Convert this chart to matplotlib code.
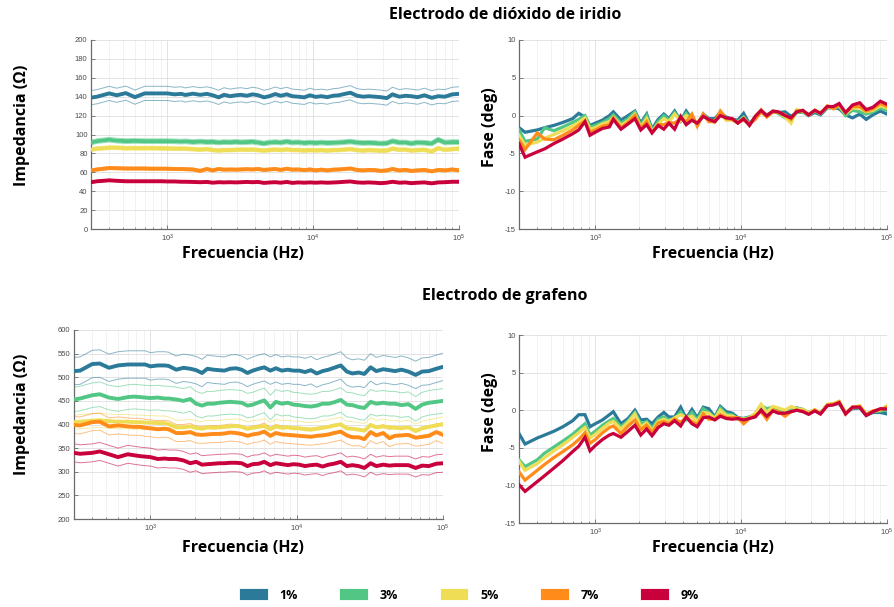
import matplotlib
matplotlib.use("Agg")
import matplotlib.pyplot as plt
from matplotlib.patches import Patch
from matplotlib.ticker import LogLocator, NullFormatter

plt.rcParams['font.family'] = ['Liberation Sans', 'DejaVu Sans']
plt.rcParams['mathtext.default'] = 'regular'
plt.rcParams['axes.unicode_minus'] = False

# ---------------------------------------------------------------- data
freq = [300, 330, 400, 450, 520, 600, 700, 770, 850, 920,
        1000, 1120, 1250, 1330, 1500, 1680, 1870, 2050, 2250, 2450,
        2700, 2950, 3200, 3500, 3850, 4200, 4600, 5000, 5500, 6000,
        6600, 7200, 7900, 8700, 9500, 10400, 11400, 12500, 13700, 15000,
        16500, 18000, 20000, 22000, 24000, 26500, 29000, 32000, 35000, 39000,
        43000, 47000, 52000, 58000, 65000, 72000, 80000, 90000, 100000]

concentrations = ["1%", "3%", "5%", "7%", "9%"]
colors = ["#2B7A99", "#52C785", "#EEDD55", "#FF8C1A", "#C8003C"]

# Iridium dioxide electrode: mean impedance (ohm)
ir_z_1 = [139.0, 140.0, 143.5, 141.5, 143.8, 139.5, 143.5, 143.5, 143.5, 143.5,
          143.5, 142.5, 143.0, 141.8, 143.2, 142.0, 143.0, 141.5, 139.3, 142.0,
          140.5, 141.5, 142.0, 141.0, 142.5, 141.5, 139.3, 140.5, 142.8, 141.0,
          142.5, 140.5, 140.0, 139.3, 141.5, 139.8, 140.5, 139.5, 141.0, 141.5,
          143.0, 144.2, 141.0, 140.0, 140.5, 140.0, 139.5, 138.5, 142.5, 140.0,
          141.0, 140.5, 139.5, 141.5, 138.8, 140.5, 140.0, 142.5, 143.0]
ir_z_3 = [91.5, 93.0, 94.5, 93.5, 93.0, 93.2, 93.0, 93.0, 93.0, 93.0,
          93.0, 92.8, 92.5, 92.8, 92.0, 92.5, 92.0, 92.2, 91.5, 92.0,
          91.8, 92.2, 91.8, 92.0, 92.3, 91.5, 90.5, 91.5, 92.0, 91.5,
          92.5, 91.5, 91.8, 91.0, 91.5, 91.0, 91.5, 91.0, 91.2, 91.5,
          92.0, 92.5, 91.5, 91.0, 91.2, 91.0, 90.5, 90.8, 93.0, 91.5,
          91.5, 90.5, 91.5, 91.2, 90.5, 94.5, 91.5, 92.0, 92.0]
ir_z_5 = [84.0, 85.0, 86.0, 86.0, 85.5, 85.5, 85.5, 85.5, 85.5, 85.3,
          85.3, 85.0, 85.0, 85.0, 84.5, 84.0, 84.5, 83.5, 83.0, 83.5,
          83.5, 83.8, 84.0, 83.8, 84.0, 83.5, 83.0, 83.5, 84.0, 83.5,
          84.2, 83.5, 83.5, 83.0, 83.5, 83.2, 83.5, 83.0, 83.5, 83.5,
          84.0, 84.5, 83.5, 83.0, 83.5, 83.2, 82.8, 83.0, 85.0, 83.8,
          84.0, 83.0, 83.5, 83.8, 82.0, 85.5, 83.8, 84.5, 85.0]
ir_z_7 = [62.0, 63.0, 64.5, 64.3, 64.0, 64.0, 64.0, 63.8, 63.8, 63.8,
          63.8, 63.5, 63.5, 63.3, 63.0, 61.5, 63.5, 62.0, 63.5, 62.8,
          63.0, 62.8, 63.0, 63.3, 63.0, 63.5, 62.5, 63.0, 63.5, 62.5,
          63.8, 62.8, 63.0, 62.3, 63.0, 62.0, 62.8, 62.0, 62.8, 63.0,
          63.5, 64.0, 62.5, 62.0, 62.5, 62.3, 61.5, 62.0, 63.5, 62.0,
          62.5, 61.5, 62.0, 62.5, 61.0, 62.5, 62.0, 63.0, 62.0]
ir_z_9 = [49.5, 50.5, 51.5, 51.0, 50.5, 50.5, 50.5, 50.5, 50.5, 50.5,
          50.3, 50.3, 50.0, 50.0, 49.8, 49.5, 49.8, 49.0, 49.5, 49.3,
          49.5, 49.3, 49.5, 49.8, 49.5, 49.8, 48.8, 49.2, 49.5, 49.0,
          49.8, 48.8, 49.3, 49.0, 49.3, 49.0, 49.3, 49.0, 49.2, 49.5,
          50.0, 50.3, 49.3, 49.0, 49.3, 49.0, 48.5, 49.0, 50.0, 49.0,
          49.3, 48.5, 49.0, 49.3, 48.3, 49.3, 49.5, 50.0, 50.0]
# standard deviation of the impedance for each concentration
ir_z_spread = [7.5, 2.5, 2.0, 1.5, 1.0]

# Iridium dioxide electrode: phase (deg)
ir_ph_1 = [-1.6, -2.2, -1.9, -1.6, -1.3, -0.9, -0.4, 0.3, -0.2, -1.3,
           -1.0, -0.6, 0.0, 0.5, -0.6, 0.0, 0.6, -1.0, 0.2, -1.8,
           -0.5, 0.2, -0.4, 0.6, -0.7, 0.6, -0.5, -1.1, 0.2, -0.4,
           -0.4, 0.4, -0.2, -0.5, -0.6, 0.3, -1.1, -0.2, 0.5, 0.1,
           0.5, 0.4, 0.5, -0.1, 0.4, 0.5, 0.0, 0.4, 0.1, 1.0,
           1.1, 0.9, 0.1, -0.3, 0.2, -0.5, 0.1, 0.6, 0.2]
ir_ph_3 = [-1.9, -3.4, -3.1, -1.6, -2.0, -1.5, -0.9, -0.5, 0.0, -1.5,
           -1.3, -0.9, -0.4, 0.1, -1.0, -0.4, 0.5, -1.3, 0.0, -2.0,
           -0.8, 0.0, -0.6, 0.4, -0.5, 0.3, -0.6, -1.0, 0.0, -0.5,
           -0.7, 0.3, -0.3, -0.5, -0.8, -0.2, -1.2, -0.2, 0.6, 0.0,
           0.6, 0.3, -0.3, -0.5, 0.4, 0.5, 0.1, 0.6, 0.2, 1.1,
           1.0, 1.2, 0.0, 0.7, 0.5, 0.2, 0.5, 1.0, 0.7]
ir_ph_5 = [-2.6, -3.9, -3.5, -3.0, -2.5, -2.0, -1.4, -0.9, -0.3, -1.8,
           -1.6, -1.1, -0.8, -0.2, -1.3, -0.7, 0.2, -1.5, -0.4, -2.1,
           -1.1, -0.4, -0.8, 0.2, -0.7, 0.0, -0.6, -1.0, 0.1, -0.6,
           -0.9, 0.3, -0.6, -0.6, -1.0, -0.3, -1.3, -0.1, 0.8, -0.1,
           0.6, 0.5, -0.2, -1.0, 0.8, 0.6, 0.1, 0.7, 0.3, 1.1,
           1.1, 1.3, 0.3, 1.0, 1.0, 0.5, 0.7, 1.3, 1.0]
ir_ph_7 = [-3.2, -4.5, -2.3, -3.1, -3.2, -2.6, -1.9, -1.3, -0.7, -2.2,
           -1.9, -1.4, -1.2, -0.3, -1.6, -0.9, 0.0, -1.7, -0.8, -2.2,
           -1.2, -1.2, -0.9, -1.0, -0.4, -0.8, 0.2, -1.4, 0.2, -0.8,
           -0.8, 0.6, -0.4, -0.5, -0.9, -0.6, -1.1, -0.5, 0.5, -0.2,
           0.5, 0.4, 0.1, -0.5, 0.6, 0.6, 0.1, 0.7, 0.3, 1.3,
           0.9, 1.4, 0.4, 1.2, 1.2, 0.6, 0.9, 1.6, 1.2]
ir_ph_9 = [-3.7, -5.5, -4.8, -4.4, -3.7, -3.1, -2.4, -1.9, -0.8, -2.6,
           -2.2, -1.7, -1.5, -0.5, -1.8, -1.1, -0.4, -1.9, -1.2, -2.3,
           -1.3, -1.8, -1.0, -1.8, -0.1, -1.2, -0.6, -1.0, -0.1, -0.5,
           -0.8, 0.0, -0.3, -0.4, -1.0, -0.4, -1.3, -0.1, 0.7, 0.0,
           0.6, 0.5, 0.0, -0.3, 0.5, 0.7, 0.1, 0.7, 0.3, 1.2,
           1.2, 1.6, 0.4, 1.4, 1.7, 0.8, 1.1, 1.9, 1.5]

# Graphene electrode: mean impedance (ohm)
gr_z_1 = [513, 514, 528, 529, 520, 525, 527, 527, 527, 527,
          523, 525, 525, 524, 516, 520, 518, 515, 509, 518,
          516, 515, 514, 518, 519, 516, 509, 514, 518, 521,
          514, 519, 514, 516, 514, 514, 511, 515, 508, 513,
          516, 520, 525, 512, 508, 510, 507, 521, 513, 517,
          515, 513, 516, 512, 505, 512, 513, 518, 522]
gr_z_3 = [453, 455, 462, 464, 457, 454, 458, 459, 458, 457,
          456, 457, 455, 455, 453, 450, 454, 444, 440, 444,
          444, 446, 447, 448, 447, 446, 440, 442, 447, 451,
          436, 448, 444, 446, 442, 441, 439, 438, 440, 444,
          444, 447, 452, 442, 441, 437, 435, 448, 444, 446,
          444, 444, 441, 443, 433, 442, 446, 448, 450]
gr_z_5 = [405, 406, 408, 409, 407, 406, 406, 405, 405, 404,
          404, 403, 403, 401, 394, 394, 396, 393, 391, 394,
          393, 394, 395, 396, 397, 395, 391, 393, 395, 397,
          390, 396, 393, 394, 392, 392, 390, 389, 391, 393,
          395, 398, 400, 392, 391, 389, 387, 399, 394, 396,
          394, 393, 392, 394, 386, 392, 395, 398, 401]
gr_z_7 = [399, 398, 405, 406, 396, 398, 396, 395, 395, 393,
          392, 390, 391, 390, 382, 382, 384, 379, 378, 379,
          380, 380, 381, 383, 382, 380, 376, 379, 381, 385,
          376, 382, 379, 378, 377, 376, 375, 374, 376, 377,
          379, 382, 385, 377, 373, 373, 369, 384, 377, 382,
          371, 376, 377, 378, 372, 374, 376, 384, 378]
gr_z_9 = [340, 338, 340, 343, 337, 331, 337, 335, 333, 332,
          331, 327, 328, 327, 327, 324, 318, 321, 315, 316,
          317, 318, 318, 319, 319, 318, 312, 316, 317, 321,
          314, 318, 316, 314, 316, 315, 312, 314, 315, 311,
          315, 317, 321, 312, 314, 312, 308, 318, 312, 315,
          313, 314, 314, 314, 308, 313, 312, 317, 318]
gr_z_spread = [29, 26, 15, 18, 19]

# Graphene electrode: phase (deg)
gr_ph_1 = [-3.1, -4.5, -3.7, -3.3, -2.8, -2.2, -1.4, -0.6, -0.6, -2.2,
           -1.8, -1.3, -0.6, -0.2, -1.8, -1.1, 0.0, -1.3, -1.2, -1.8,
           -0.9, -0.3, -0.9, -0.9, 0.4, -1.1, 0.1, -1.0, 0.4, 0.2,
           -0.9, 0.5, -0.2, -0.4, -1.0, -1.1, -0.9, -0.6, 0.2, -0.5,
           0.2, 0.0, -0.3, -0.1, 0.3, 0.1, -0.3, 0.0, -0.4, 0.7,
           0.8, 0.9, -0.3, 0.2, 0.3, -0.7, -0.3, -0.3, -0.5]
gr_ph_3 = [-6.6, -7.5, -6.6, -5.7, -4.9, -4.1, -3.2, -2.5, -1.8, -3.3,
           -2.8, -2.0, -1.4, -1.1, -2.2, -1.4, -0.3, -1.8, -1.5, -2.4,
           -1.2, -0.9, -1.3, -1.2, -0.2, -1.2, -0.3, -1.3, 0.2, -0.3,
           -1.0, 0.3, -0.5, -0.6, -1.2, -1.1, -1.0, -0.5, 0.6, 0.2,
           0.4, 0.0, -0.2, 0.0, 0.3, 0.0, -0.4, 0.0, -0.4, 0.7,
           0.8, 1.0, -0.4, 0.3, 0.4, -0.6, -0.2, -0.1, 0.0]
gr_ph_5 = [-6.8, -8.0, -7.1, -6.3, -5.4, -4.6, -3.6, -3.0, -2.3, -3.7,
           -3.2, -2.4, -1.7, -1.5, -2.5, -1.6, -0.5, -2.2, -1.7, -2.7,
           -1.5, -1.2, -1.5, -1.0, -0.6, -1.0, -0.8, -1.5, -0.3, -0.4,
           -1.1, 0.0, -0.7, -0.8, -1.1, -1.2, -1.0, -0.4, 0.8, -0.3,
           0.5, 0.3, 0.0, 0.5, 0.2, 0.1, -0.3, 0.1, -0.4, 0.8,
           0.9, 1.2, -0.3, 0.4, 0.6, -0.5, -0.1, 0.0, 0.6]
gr_ph_7 = [-8.2, -9.3, -8.0, -7.2, -6.3, -5.5, -4.6, -3.9, -3.0, -4.4,
           -3.9, -3.0, -2.3, -2.1, -3.1, -2.1, -1.3, -2.6, -2.0, -3.0,
           -1.7, -1.5, -1.8, -1.2, -1.6, -1.0, -1.5, -1.9, -0.5, -1.2,
           -1.2, -0.6, -1.0, -1.0, -1.0, -1.8, -1.1, -0.7, -0.2, -1.2,
           0.0, -0.2, -0.8, -0.2, 0.0, -0.1, -0.5, 0.0, -0.5, 0.7,
           0.8, 1.1, -0.5, 0.4, 0.5, -0.6, -0.1, 0.1, 0.4]
gr_ph_9 = [-9.9, -10.8, -9.5, -8.7, -7.7, -6.7, -5.5, -4.8, -3.6, -5.4,
           -4.7, -3.9, -3.3, -3.1, -3.6, -2.8, -2.0, -3.3, -2.5, -3.4,
           -2.3, -1.8, -2.0, -1.4, -2.1, -0.9, -1.8, -2.2, -1.0, -0.9,
           -1.3, -0.8, -1.1, -1.2, -1.1, -1.3, -1.1, -0.9, 0.0, -0.8,
           -0.1, -0.4, -0.4, -0.2, 0.0, -0.2, -0.55, -0.1, -0.5, 0.6,
           0.7, 1.0, -0.5, 0.4, 0.4, -0.7, -0.2, 0.2, 0.15]

ir_z = [ir_z_1, ir_z_3, ir_z_5, ir_z_7, ir_z_9]
ir_ph = [ir_ph_1, ir_ph_3, ir_ph_5, ir_ph_7, ir_ph_9]
gr_z = [gr_z_1, gr_z_3, gr_z_5, gr_z_7, gr_z_9]
gr_ph = [gr_ph_1, gr_ph_3, gr_ph_5, gr_ph_7, gr_ph_9]

# ---------------------------------------------------------------- figure
W, H = 894, 607
fig = plt.figure(figsize=(W / 100, H / 100), dpi=100)


def px_axes(x0, y0, x1, y1):
    return fig.add_axes([x0 / W, 1 - y1 / H, (x1 - x0) / W, (y1 - y0) / H])


def style(ax, ylim, yticks):
    ax.set_xscale('log')
    ax.set_xlim(300, 1e5)
    ax.set_ylim(*ylim)
    ax.set_yticks(yticks)
    ax.xaxis.set_major_locator(LogLocator(base=10, numticks=10))
    ax.xaxis.set_minor_locator(LogLocator(base=10, subs=range(2, 10), numticks=100))
    ax.xaxis.set_minor_formatter(NullFormatter())
    ax.set_axisbelow(True)
    ax.grid(which='major', color='#dedede', lw=0.6)
    ax.grid(which='minor', axis='x', color='#ededed', lw=0.5)
    for s in ('top', 'right'):
        ax.spines[s].set_visible(False)
    for s in ('left', 'bottom'):
        ax.spines[s].set_color('#6a6a6a')
        ax.spines[s].set_linewidth(0.9)
    ax.tick_params(which='both', direction='in', color='#6a6a6a',
                   labelcolor='#4a4a4a', labelsize=5.5, pad=2.5)
    ax.tick_params(which='major', length=3, width=0.6)
    ax.tick_params(which='minor', length=1.8, width=0.5)


def impedance_panel(ax, means, spreads):
    for m, s, c in zip(means, spreads, colors):
        ax.plot(freq, [v + s for v in m], color=c, lw=0.7, alpha=0.55, zorder=2)
        ax.plot(freq, [v - s for v in m], color=c, lw=0.7, alpha=0.55, zorder=2)
    for m, c in zip(means, colors):
        ax.plot(freq, m, color=c, lw=2.8, zorder=3, solid_joinstyle='round')


def phase_panel(ax, phases):
    for p, c in zip(phases, colors):
        ax.plot(freq, p, color=c, lw=2.3, zorder=3, solid_joinstyle='miter')


ax1 = px_axes(91, 40, 459, 229)
impedance_panel(ax1, ir_z, ir_z_spread)
style(ax1, (0, 200), range(0, 201, 20))

ax2 = px_axes(519, 40, 887, 229)
phase_panel(ax2, ir_ph)
style(ax2, (-15, 10), range(-15, 11, 5))

ax3 = px_axes(74, 330, 443, 519)
impedance_panel(ax3, gr_z, gr_z_spread)
style(ax3, (200, 600), range(200, 601, 50))

ax4 = px_axes(519, 335, 887, 523)
phase_panel(ax4, gr_ph)
style(ax4, (-15, 10), range(-15, 11, 5))

# ---------------------------------------------------------------- texts
bold = dict(family=['Open Sans', 'DejaVu Sans'], weight='bold', color='black')


def ftext(x, y, s, size, **kw):
    fig.text(x / W, 1 - y / H, s, ha='center', va='center', fontsize=size, **bold, **kw)


ftext(505, 15, "Electrodo de dióxido de iridio", 11.5)
ftext(505, 296, "Electrodo de grafeno", 11.5)

ftext(243, 254, "Frecuencia (Hz)", 11.5)
ftext(713, 254, "Frecuencia (Hz)", 11.5)
ftext(243, 548, "Frecuencia (Hz)", 11.5)
ftext(713, 548, "Frecuencia (Hz)", 11.5)

ftext(22, 125, "Impedancia (Ω)", 11.5, rotation=90)
ftext(22, 414, "Impedancia (Ω)", 11.5, rotation=90)
ftext(490, 127, "Fase (deg)", 11.5, rotation=90)
ftext(490, 412, "Fase (deg)", 11.5, rotation=90)

handles = [Patch(facecolor=c, edgecolor='white', linewidth=0.6) for c in colors]
fig.legend(handles, concentrations, loc='center',
           bbox_to_anchor=(469 / W, 1 - 595 / H), ncol=5, frameon=False,
           handlelength=2.3, handleheight=1.05, handletextpad=0.95,
           columnspacing=3.3,
           prop=dict(family=['Open Sans', 'DejaVu Sans'], weight='bold', size=9))

fig.savefig("out.png", dpi=100)
